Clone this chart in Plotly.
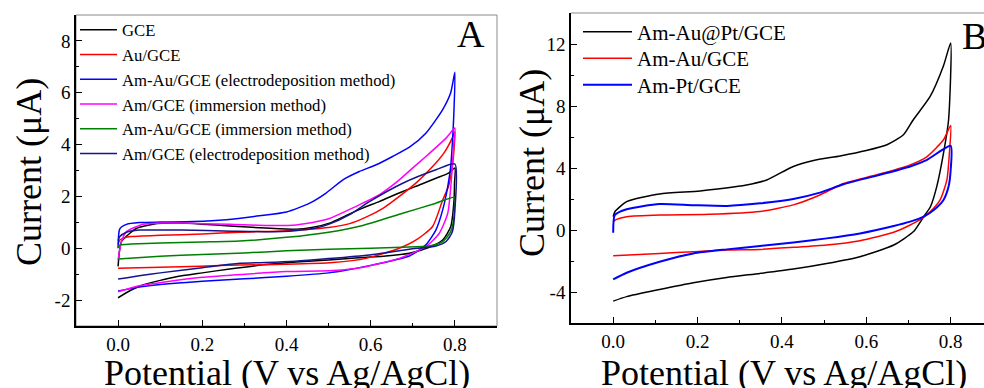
import plotly.graph_objects as go

# ---------------- Panel A data (potential V, current uA) ----------------
gce_fwd_v = [0, 0.003, 0.008, 0.028, 0.044, 0.083, 0.14, 0.2, 0.265, 0.35, 0.423, 0.46, 0.502, 0.54, 0.581, 0.62, 0.676, 0.72, 0.755, 0.785, 0.8]
gce_fwd_i = [-0.7, -0.13, 0.26, 0.58, 0.77, 0.93, 0.97, 0.93, 0.86, 0.78, 0.73, 0.8, 0.97, 1.25, 1.55, 1.8, 2.19, 2.47, 2.7, 2.9, 3.1]
gce_rev_v = [0.799, 0.798, 0.79, 0.771, 0.739, 0.692, 0.636, 0.58, 0.5, 0.423, 0.35, 0.265, 0.2, 0.138, 0.1, 0.059, 0.03, 0]
gce_rev_i = [2.5, 1.87, 0.83, 0.32, 0.04, -0.19, -0.3, -0.36, -0.45, -0.53, -0.63, -0.8, -0.95, -1.1, -1.24, -1.42, -1.62, -1.91]

au_fwd_v = [0, 0.004, 0.015, 0.03, 0.1, 0.2, 0.289, 0.4, 0.5, 0.55, 0.589, 0.63, 0.668, 0.71, 0.747, 0.775, 0.795, 0.8]
au_fwd_i = [0.15, 0.32, 0.4, 0.45, 0.5, 0.55, 0.62, 0.68, 0.8, 0.95, 1.2, 1.55, 2.0, 2.55, 3.15, 3.7, 4.3, 4.5]
au_rev_v = [0.795, 0.785, 0.771, 0.747, 0.708, 0.668, 0.589, 0.51, 0.4, 0.289, 0.194, 0.1, 0]
au_rev_i = [3.3, 2.4, 1.86, 0.84, 0.32, 0.0, -0.39, -0.55, -0.62, -0.65, -0.69, -0.73, -0.77]

amau_ed_fwd_v = [0, 0.004, 0.02, 0.05, 0.1, 0.18, 0.257, 0.336, 0.4, 0.455, 0.494, 0.534, 0.573, 0.613, 0.652, 0.692, 0.731, 0.771, 0.79, 0.8]
amau_ed_fwd_i = [0.0, 0.75, 0.92, 0.99, 1.01, 1.03, 1.1, 1.25, 1.4, 1.74, 2.13, 2.64, 2.96, 3.22, 3.54, 3.9, 4.44, 5.35, 6.0, 6.79]
amau_ed_rev_v = [0.797, 0.794, 0.79, 0.783, 0.771, 0.755, 0.731, 0.692, 0.64, 0.6, 0.55, 0.5, 0.4, 0.3, 0.2, 0.1, 0.05, 0]
amau_ed_rev_i = [5.0, 4.06, 3.15, 2.38, 1.48, 0.71, 0.13, -0.3, -0.52, -0.66, -0.82, -0.95, -1.08, -1.18, -1.27, -1.4, -1.5, -1.65]

am_im_fwd_v = [0, 0.008, 0.02, 0.059, 0.099, 0.15, 0.2, 0.265, 0.35, 0.423, 0.478, 0.502, 0.55, 0.581, 0.62, 0.668, 0.7, 0.731, 0.779, 0.8]
am_im_fwd_i = [-0.45, 0.26, 0.64, 0.93, 0.97, 0.97, 0.95, 0.93, 0.88, 0.9, 1.05, 1.15, 1.5, 1.74, 2.06, 2.64, 3.1, 3.54, 4.25, 4.64]
am_im_rev_v = [0.797, 0.794, 0.783, 0.763, 0.731, 0.668, 0.589, 0.51, 0.4, 0.273, 0.2, 0.115, 0.05, 0]
am_im_rev_i = [4.0, 3.15, 1.35, 0.58, 0.06, -0.39, -0.71, -0.86, -0.9, -1.03, -1.12, -1.29, -1.45, -1.68]

amau_im_fwd_v = [0, 0.005, 0.03, 0.1, 0.2, 0.289, 0.4, 0.5, 0.581, 0.676, 0.755, 0.8]
amau_im_fwd_i = [0.05, 0.13, 0.16, 0.2, 0.24, 0.28, 0.42, 0.62, 0.88, 1.35, 1.74, 1.97]
amau_im_rev_v = [0.799, 0.798, 0.79, 0.771, 0.739, 0.676, 0.6, 0.5, 0.4, 0.3, 0.2, 0.1, 0]
amau_im_rev_i = [1.6, 1.22, 0.64, 0.26, 0.09, 0.04, 0.0, -0.04, -0.1, -0.18, -0.24, -0.31, -0.41]

am_ed_fwd_v = [0, 0.004, 0.02, 0.05, 0.15, 0.27, 0.35, 0.42, 0.47, 0.5, 0.55, 0.597, 0.676, 0.755, 0.8]
am_ed_fwd_i = [0.3, 0.45, 0.62, 0.7, 0.7, 0.66, 0.64, 0.68, 0.78, 0.92, 1.3, 1.8, 2.51, 3.03, 3.25]
am_ed_rev_v = [0.8, 0.794, 0.779, 0.755, 0.692, 0.597, 0.5, 0.42, 0.35, 0.289, 0.2, 0.1, 0.05, 0]
am_ed_rev_i = [1.48, 0.64, 0.26, 0.09, -0.04, -0.26, -0.4, -0.5, -0.55, -0.58, -0.75, -0.95, -1.06, -1.19]

# ---------------- Panel B data ----------------
aupt_fwd_v = [0, 0.004, 0.032, 0.11, 0.206, 0.316, 0.364, 0.427, 0.475, 0.538, 0.6, 0.649, 0.688, 0.711, 0.751, 0.783, 0.8]
aupt_fwd_i = [0.86, 1.18, 1.83, 2.33, 2.52, 2.9, 3.23, 4.1, 4.48, 4.78, 5.13, 5.5, 6.14, 7.1, 8.6, 10.6, 12.07]
aupt_rev_v = [0.795, 0.783, 0.767, 0.752, 0.736, 0.712, 0.665, 0.585, 0.506, 0.427, 0.348, 0.269, 0.19, 0.11, 0.032, 0]
aupt_rev_i = [7.1, 4.96, 2.8, 1.5, 0.86, -0.1, -0.97, -1.72, -2.16, -2.52, -2.8, -3.06, -3.4, -3.84, -4.3, -4.59]

amaub_fwd_v = [0, 0.008, 0.032, 0.111, 0.229, 0.348, 0.427, 0.49, 0.546, 0.625, 0.704, 0.744, 0.783, 0.8]
amaub_fwd_i = [0.54, 0.69, 0.86, 0.97, 1.01, 1.19, 1.62, 2.26, 3.0, 3.56, 4.2, 4.74, 5.82, 6.75]
amaub_rev_v = [0.797, 0.791, 0.775, 0.752, 0.732, 0.704, 0.665, 0.585, 0.506, 0.427, 0.348, 0.269, 0.19, 0.11, 0]
amaub_rev_i = [4.96, 3.23, 1.94, 1.19, 0.75, 0.32, -0.15, -0.69, -0.97, -1.12, -1.25, -1.29, -1.4, -1.51, -1.66]

ampt_fwd_v = [0, 0.004, 0.032, 0.11, 0.19, 0.27, 0.348, 0.427, 0.49, 0.546, 0.625, 0.704, 0.744, 0.8]
ampt_fwd_i = [-0.17, 0.97, 1.34, 1.68, 1.6, 1.55, 1.72, 2.0, 2.41, 2.95, 3.51, 4.1, 4.53, 5.43]
ampt_rev_v = [0.8, 0.795, 0.783, 0.76, 0.736, 0.704, 0.665, 0.585, 0.506, 0.427, 0.348, 0.269, 0.19, 0.11, 0.032, 0]
ampt_rev_i = [3.88, 2.8, 1.94, 1.29, 0.86, 0.54, 0.26, -0.22, -0.54, -0.8, -1.03, -1.25, -1.51, -2.05, -2.76, -3.19]

# ---------------- labels / ticks ----------------
names_a = ["GCE", "Au/GCE", "Am-Au/GCE (electrodeposition method)", "Am/GCE (immersion method)",
           "Am-Au/GCE (immersion method)", "Am/GCE (electrodeposition method)"]
colors_a = ["#000000", "#ff0000", "#0000ff", "#ff00ff", "#008000", "#14148c"]
names_b = ["Am-Au@Pt/GCE", "Am-Au/GCE", "Am-Pt/GCE"]
colors_b = ["#000000", "#ff0000", "#0000ff"]

x_tickvals = [0.0, 0.2, 0.4, 0.6, 0.8]
x_ticktext = ["0.0", "0.2", "0.4", "0.6", "0.8"]
ya_tickvals = [-2, 0, 2, 4, 6, 8]
ya_ticktext = ["-2", "0", "2", "4", "6", "8"]
yb_tickvals = [-4, 0, 4, 8, 12]
yb_ticktext = ["-4", "0", "4", "8", "12"]

SERIF = "Liberation Serif"
W, H = 984, 388

series_a = [
    (gce_fwd_v, gce_fwd_i, gce_rev_v, gce_rev_i),
    (au_fwd_v, au_fwd_i, au_rev_v, au_rev_i),
    (amau_ed_fwd_v, amau_ed_fwd_i, amau_ed_rev_v, amau_ed_rev_i),
    (am_im_fwd_v, am_im_fwd_i, am_im_rev_v, am_im_rev_i),
    (amau_im_fwd_v, amau_im_fwd_i, amau_im_rev_v, amau_im_rev_i),
    (am_ed_fwd_v, am_ed_fwd_i, am_ed_rev_v, am_ed_rev_i),
]
series_b = [
    (aupt_fwd_v, aupt_fwd_i, aupt_rev_v, aupt_rev_i),
    (amaub_fwd_v, amaub_fwd_i, amaub_rev_v, amaub_rev_i),
    (ampt_fwd_v, ampt_fwd_i, ampt_rev_v, ampt_rev_i),
]

fig = go.Figure()
for (fv, fi, rv, ri), name, col in zip(series_a, names_a, colors_a):
    fig.add_trace(go.Scatter(x=fv + rv, y=fi + ri, mode="lines", name=name,
                             line=dict(color=col, width=1.5, shape="spline", smoothing=0.6),
                             xaxis="x", yaxis="y", legend="legend"))
legend_keys_b = ["legend2", "legend3", "legend4"]
for (fv, fi, rv, ri), name, col, lk in zip(series_b, names_b, colors_b, legend_keys_b):
    fig.add_trace(go.Scatter(x=fv + rv, y=fi + ri, mode="lines", name=name,
                             line=dict(color=col, width=2.0 if col == "#0000ff" else 1.5,
                                       shape="spline", smoothing=0.6),
                             xaxis="x2", yaxis="y2", legend=lk))

def px_x(p):
    return p / W

def px_y(p):
    return 1 - p / H

common_axis = dict(showgrid=False, zeroline=False, showline=True, linecolor="black", linewidth=1.5,
                   ticks="inside", ticklen=6, tickwidth=1.2, tickcolor="black", automargin=False,
                   tickfont=dict(family=SERIF, size=19, color="black"))
minor_common = dict(ticks="inside", ticklen=3, tickwidth=1, tickcolor="black", tick0=0, showgrid=False)

xa_dom = [px_x(76), px_x(497)]
ya_dom = [px_y(326), px_y(15)]
xb_dom = [px_x(571), 1.0]
yb_dom = [px_y(323), px_y(13)]

fig.update_layout(
    template="none",
    width=W, height=H, margin=dict(l=0, r=0, t=0, b=0, pad=0, autoexpand=False),
    font=dict(family=SERIF, color="black"),
    paper_bgcolor="white", plot_bgcolor="white",
    xaxis=dict(domain=xa_dom, range=[-0.1, 0.9], anchor="y", tickvals=x_tickvals, ticktext=x_ticktext,
               minor=dict(dtick=0.1, **minor_common), **common_axis),
    yaxis=dict(domain=ya_dom, range=[-3, 9], anchor="x", tickvals=ya_tickvals, ticktext=ya_ticktext,
               minor=dict(dtick=1, **minor_common), **common_axis),
    xaxis2=dict(domain=xb_dom, range=[-0.1, 0.879], anchor="y2", tickvals=x_tickvals, ticktext=x_ticktext,
                minor=dict(dtick=0.1, **minor_common), **common_axis),
    yaxis2=dict(domain=yb_dom, range=[-6, 14], anchor="x2", tickvals=yb_tickvals, ticktext=yb_ticktext,
                minor=dict(dtick=2, **minor_common), **common_axis),
    showlegend=True,
    legend=dict(x=px_x(75), y=px_y(12.5), xanchor="left", yanchor="top", bgcolor="rgba(0,0,0,0)",
                font=dict(family=SERIF, size=16.7, color="black"), itemwidth=37, tracegroupgap=0),
    legend2=dict(x=px_x(578), y=px_y(32), xanchor="left", yanchor="middle", bgcolor="rgba(0,0,0,0)",
                 font=dict(family=SERIF, size=21, color="black"), itemwidth=49),
    legend3=dict(x=px_x(578), y=px_y(58.5), xanchor="left", yanchor="middle", bgcolor="rgba(0,0,0,0)",
                 font=dict(family=SERIF, size=21, color="black"), itemwidth=49),
    legend4=dict(x=px_x(578), y=px_y(85), xanchor="left", yanchor="middle", bgcolor="rgba(0,0,0,0)",
                 font=dict(family=SERIF, size=21, color="black"), itemwidth=49),
    shapes=[
        dict(type="rect", xref="x domain", yref="y domain", x0=0, x1=1, y0=0, y1=1,
             line=dict(color="#8a8a8a", width=1), layer="below"),
        dict(type="line", xref="x2 domain", yref="y2 domain", x0=0, x1=1, y0=1, y1=1,
             line=dict(color="#8a8a8a", width=1), layer="below"),
    ],
    annotations=[
        dict(text="Potential (V vs Ag/AgCl)", x=px_x(287), y=px_y(373), xref="paper", yref="paper",
             xanchor="center", yanchor="middle", showarrow=False, font=dict(family=SERIF, size=36, color="black")),
        dict(text="Potential (V vs Ag/AgCl)", x=px_x(784), y=px_y(373), xref="paper", yref="paper",
             xanchor="center", yanchor="middle", showarrow=False, font=dict(family=SERIF, size=36, color="black")),
        dict(text="Current (μA)", x=px_x(29), y=px_y(172), xref="paper", yref="paper", textangle=-90,
             xanchor="center", yanchor="middle", showarrow=False, font=dict(family=SERIF, size=36, color="black")),
        dict(text="Current (μA)", x=px_x(532), y=px_y(163), xref="paper", yref="paper", textangle=-90,
             xanchor="center", yanchor="middle", showarrow=False, font=dict(family=SERIF, size=36, color="black")),
        dict(text="A", x=px_x(471), y=px_y(34), xref="paper", yref="paper",
             xanchor="center", yanchor="middle", showarrow=False, font=dict(family=SERIF, size=38, color="black")),
        dict(text="B", x=px_x(960), y=px_y(36), xref="paper", yref="paper",
             xanchor="left", yanchor="middle", showarrow=False, font=dict(family=SERIF, size=38, color="black")),
    ],
)

fig.write_html("out.html", config={"displayModeBar": False},
               post_script="document.body.style.margin='0px';document.body.style.padding='0px';")
